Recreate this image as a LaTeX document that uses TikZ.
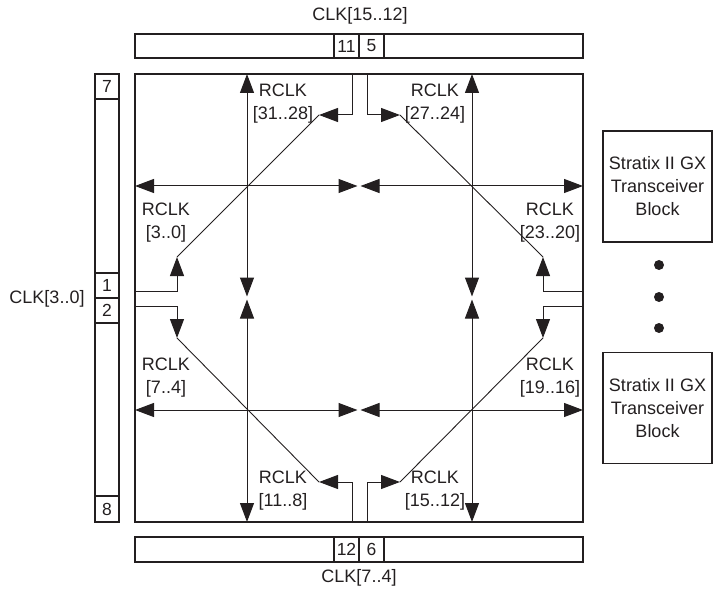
\documentclass[tikz,border=0pt]{standalone}
\usepackage{fontspec}
\setmainfont{Liberation Sans}
\usetikzlibrary{arrows.meta}
\definecolor{ink}{RGB}{35,31,32}
\begin{document}
\begin{tikzpicture}[x=1pt,y=-1pt,
  box/.style={draw=ink, line width=1.2pt, inner sep=0pt, outer sep=0pt},
  cell/.style={box, minimum width=25pt, minimum height=24pt, text=ink, font=\fontsize{17.5}{20}\selectfont},
  lbl/.style={text=ink, align=center, inner sep=0pt, font=\fontsize{18}{23}\selectfont},
  wire/.style={draw=ink, line width=1pt},
  diag/.style={draw=ink, line width=0.9pt},
  tip/.style={-{Triangle[length=19pt,width=14pt]}},
  dtip/.style={{Triangle[length=19pt,width=14pt]}-{Triangle[length=19pt,width=14pt]}},
  dot/.style={circle, fill=ink, minimum size=10pt, inner sep=0pt},
]
\useasboundingbox (0,0) rectangle (713,591);

% main region and bars
\node[box, minimum width=448pt, minimum height=448pt] (main) at (359,298) {};
\node[box, minimum width=448pt, minimum height=24pt] (topbar) at (359,46) {};
\node[cell] (c11) at (346.5,46) {11};
\node[cell] (c5) at (371.5,46) {5};
\node[box, minimum width=448pt, minimum height=25pt] (botbar) at (359,549.5) {};
\node[cell, minimum height=25pt] (c12) at (346.5,549.5) {12};
\node[cell, minimum height=25pt] (c6) at (371.5,549.5) {6};
\node[box, minimum width=24pt, minimum height=448pt] (leftbar) at (107,298) {};
\node[cell, minimum width=24pt, minimum height=25pt] (c7) at (107,86.5) {7};
\node[cell, minimum width=24pt, minimum height=25pt] (c1) at (107,285.5) {1};
\node[cell, minimum width=24pt, minimum height=25pt] (c2) at (107,310.5) {2};
\node[cell, minimum width=24pt, minimum height=26pt] (c8) at (107,509) {8};

% external labels
\node[lbl] (clkt) at (360,16) {CLK[15..12]};
\node[lbl] (clkb) at (359,578) {CLK[7..4]};
\node[lbl] (clkl) at (47,299) {CLK[3..0]};

% transceiver blocks
\node[box, minimum width=109pt, minimum height=111pt, lbl, draw=ink, line width=1.2pt] (tx1) at (657.5,186.5) {Stratix II GX\\Transceiver\\Block};
\node[box, minimum width=109pt, minimum height=111pt, lbl, draw=ink, line width=1.2pt] (tx2) at (657.5,408) {Stratix II GX\\Transceiver\\Block};
\node[dot] (d1) at (659,265) {};
\node[dot] (d2) at (659,297) {};
\node[dot] (d3) at (659,328) {};

% RCLK labels
\node[lbl] (r3128) at (283,104) {RCLK\\{}[31..28]};
\node[lbl] (r2724) at (435,104) {RCLK\\{}[27..24]};
\node[lbl] (r30) at (166,223) {RCLK\\{}[3..0]};
\node[lbl] (r2320) at (550,223) {RCLK\\{}[23..20]};
\node[lbl] (r74) at (166,378) {RCLK\\{}[7..4]};
\node[lbl] (r1916) at (550,378) {RCLK\\{}[19..16]};
\node[lbl] (r118) at (283,491) {RCLK\\{}[11..8]};
\node[lbl] (r1512) at (435,491) {RCLK\\{}[15..12]};

% coordinates of grid
\coordinate (hUa) at (135,186); \coordinate (hUb) at (357.5,186);
\coordinate (hUc) at (360.5,186); \coordinate (hUd) at (583,186);
\coordinate (hLa) at (135,410); \coordinate (hLb) at (357.5,410);
\coordinate (hLc) at (360.5,410); \coordinate (hLd) at (583,410);
\coordinate (vLa) at (247,74); \coordinate (vLb) at (247,296.5);
\coordinate (vLc) at (247,299.5); \coordinate (vLd) at (247,522);
\coordinate (vRa) at (472,74); \coordinate (vRb) at (472,296.5);
\coordinate (vRc) at (472,299.5); \coordinate (vRd) at (472,522);

\draw[wire, dtip] (hUa) -- (hUb);
\draw[wire, dtip] (hUc) -- (hUd);
\draw[wire, dtip] (hLa) -- (hLb);
\draw[wire, dtip] (hLc) -- (hLd);
\draw[wire, dtip] (vLa) -- (vLb);
\draw[wire, dtip] (vLc) -- (vLd);
\draw[wire, dtip] (vRa) -- (vRb);
\draw[wire, dtip] (vRc) -- (vRd);

% feed points and arrow tips
\coordinate (f11) at (352,74);   \coordinate (t11) at (319,115);
\coordinate (f5) at (367,74);    \coordinate (t5) at (400,115);
\coordinate (f12) at (352,522);  \coordinate (t12) at (319,482);
\coordinate (f6) at (367,522);   \coordinate (t6) at (400,482);
\coordinate (f1) at (135,291);   \coordinate (t1) at (177,257);
\coordinate (f2) at (135,306);   \coordinate (t2) at (177,338);
\coordinate (fr1) at (583,291);  \coordinate (tr1) at (543,257);
\coordinate (fr2) at (583,306);  \coordinate (tr2) at (543,338);

\draw[wire, tip] (f11) |- (t11);
\draw[wire, tip] (f5) |- (t5);
\draw[wire, tip] (f12) |- (t12);
\draw[wire, tip] (f6) |- (t6);
\draw[wire, tip] (f1) -| (t1);
\draw[wire, tip] (f2) -| (t2);
\draw[wire, tip] (fr1) -| (tr1);
\draw[wire, tip] (fr2) -| (tr2);

% diagonals
\draw[diag] (t1) -- (t11);
\draw[diag] (t5) -- (tr1);
\draw[diag] (t2) -- (t12);
\draw[diag] (t6) -- (tr2);
\end{tikzpicture}
\end{document}
